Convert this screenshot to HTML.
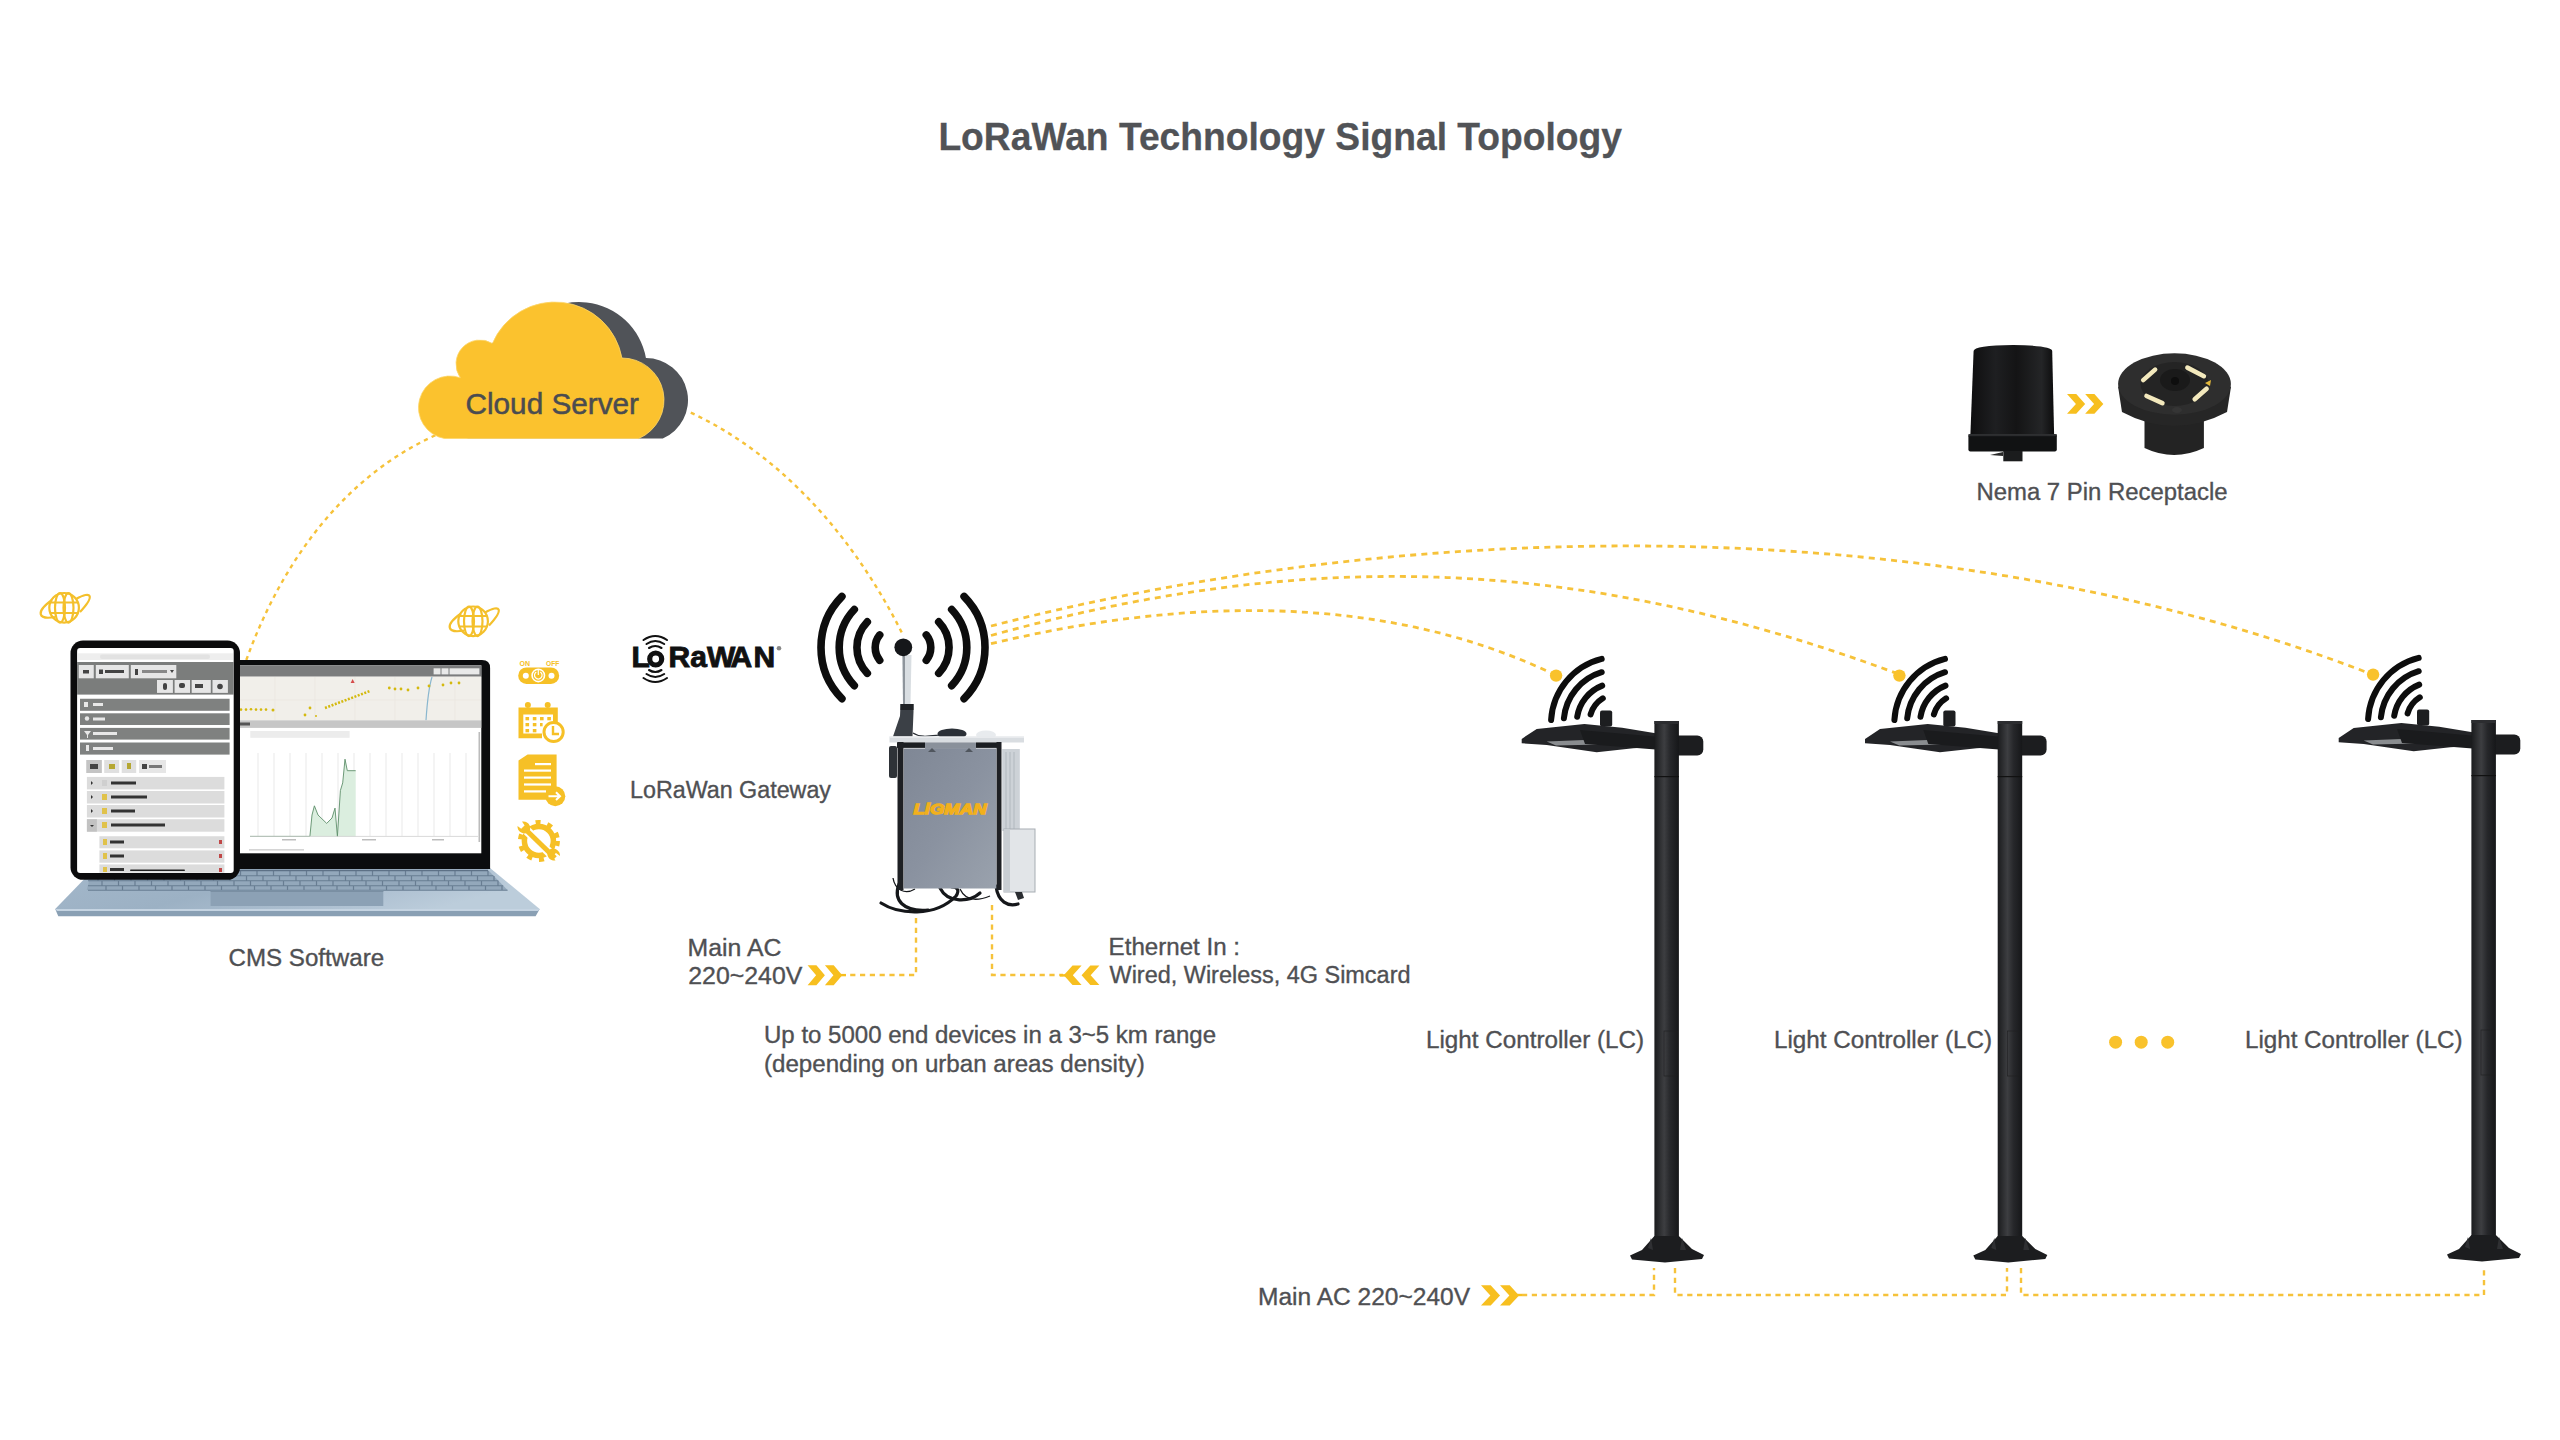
<!DOCTYPE html>
<html><head><meta charset="utf-8">
<style>
html,body{margin:0;padding:0;background:#fff;width:2560px;height:1440px;overflow:hidden}
svg{display:block}
.t{font-family:"Liberation Sans",sans-serif;fill:#4f5053;stroke:#4f5053;stroke-width:0.35px;font-size:23.5px}
.dot{fill:none;stroke:#f6c23a;stroke-width:2.4;stroke-dasharray:5.2 4.6}
</style></head><body>
<svg width="2560" height="1440" viewBox="0 0 2560 1440">
<!-- TITLE -->
<text class="t" x="938.4" y="150" style="font-size:39px;font-weight:bold;fill:#515357;stroke:#515357;stroke-width:0.3px" textLength="683.6" lengthAdjust="spacingAndGlyphs">LoRaWan Technology Signal Topology</text>

<!-- DOTTED CURVES -->
<path class="dot" style="stroke-dasharray:4.2 4.3;stroke-width:2.4" d="M246.3,660.0 C280.7,565.0 341.6,477.5 436.0,435.0"/>
<path class="dot" style="stroke-dasharray:4.2 4.3;stroke-width:2.4" d="M690.8,412.6 C785.1,456.8 856.0,541.3 902.0,633.0"/>
<path class="dot" style="stroke-dasharray:6 5.2;stroke-width:2.8" d="M991.0,626.0 C1426.1,513.8 1952.2,510.4 2372.0,674.4"/>
<path class="dot" style="stroke-dasharray:6 5.2;stroke-width:2.8" d="M991.0,635.5 C1312.2,546.3 1585.0,557.3 1899.6,674.4"/>
<path class="dot" style="stroke-dasharray:6 5.2;stroke-width:2.8" d="M991.0,643.7 C1176.0,599.4 1380.0,590.1 1555.9,675.3"/>
<path class="dot" d="M916,918 V975 H848"/>
<path class="dot" d="M992,905 V975 H1063"/>
<path class="dot" d="M1522,1295 H1654 V1268"/>
<path class="dot" d="M1675,1268 V1295 H2007 V1268"/>
<path class="dot" d="M2021,1268 V1295 H2484 V1268"/>

<!-- CLOUD -->
<g id="cloud">
<path transform="translate(24,0)" fill="#505358" d="M444.41,438.5 A31.5,31.5 0 1 1 460.32,377.74 A24,24 0 0 1 492.40,343.45 A68,68 0 0 1 621.93,358.00 A42,42 0 0 1 638.79,438.5 Z"/>
<path fill="#fbc22e" stroke="#fdd66a" stroke-width="0.8" d="M444.41,438.5 A31.5,31.5 0 1 1 460.32,377.74 A24,24 0 0 1 492.40,343.45 A68,68 0 0 1 621.93,358.00 A42,42 0 0 1 638.79,438.5 Z"/>
<text class="t" x="465.5" y="414" style="font-size:29.5px;fill:#4a4c50;stroke:#4a4c50;stroke-width:0.5px" textLength="173.5" lengthAdjust="spacingAndGlyphs">Cloud Server</text>
</g>

<!-- LABELS -->
<text class="t" x="228.5" y="966" textLength="155.6" lengthAdjust="spacingAndGlyphs">CMS Software</text>
<text class="t" x="630.0" y="798.4" textLength="201.0" lengthAdjust="spacingAndGlyphs">LoRaWan Gateway</text>
<text class="t" x="687.6" y="955.7" textLength="93.8" lengthAdjust="spacingAndGlyphs">Main AC</text>
<text class="t" x="688.3" y="984.1" textLength="114.0" lengthAdjust="spacingAndGlyphs">220~240V</text>
<text class="t" x="1108.6" y="955.2" textLength="131.4" lengthAdjust="spacingAndGlyphs">Ethernet In :</text>
<text class="t" x="1109.5" y="983.4" textLength="301.0" lengthAdjust="spacingAndGlyphs">Wired, Wireless, 4G Simcard</text>
<text class="t" x="764.0" y="1043.1" textLength="452.0" lengthAdjust="spacingAndGlyphs">Up to 5000 end devices in a 3~5 km range</text>
<text class="t" x="764.0" y="1072.2" textLength="380.7" lengthAdjust="spacingAndGlyphs">(depending on urban areas density)</text>
<text class="t" x="1426.0" y="1047.5" textLength="218.1" lengthAdjust="spacingAndGlyphs">Light Controller (LC)</text>
<text class="t" x="1774.0" y="1047.5" textLength="218.1" lengthAdjust="spacingAndGlyphs">Light Controller (LC)</text>
<text class="t" x="2245.0" y="1047.5" textLength="217.6" lengthAdjust="spacingAndGlyphs">Light Controller (LC)</text>
<text class="t" x="1976.5" y="500.2" textLength="251.0" lengthAdjust="spacingAndGlyphs">Nema 7 Pin Receptacle</text>
<text class="t" x="1258.0" y="1304.5" textLength="212.1" lengthAdjust="spacingAndGlyphs">Main AC 220~240V</text>
<g fill="#f9c22c"><circle cx="2115.6" cy="1042.2" r="6.5"/><circle cx="2141.2" cy="1042.2" r="6.5"/><circle cx="2167.7" cy="1042.2" r="6.5"/></g>

<!--COMPONENTS-->
<!--LAPTOP-->
<g id="laptop">
<defs>
<linearGradient id="deck" x1="0" y1="0" x2="1" y2="0.3"><stop offset="0" stop-color="#a3b7ca"/><stop offset="0.45" stop-color="#9cb1c4"/><stop offset="0.8" stop-color="#b0c2d3"/><stop offset="1" stop-color="#bccddb"/></linearGradient>
</defs>
<!-- base deck -->
<path d="M95,868 L490,868 L539.7,909 L55.2,909 Z" fill="url(#deck)"/>
<path d="M55.2,909 L539.7,909 L535.6,916.2 L58.3,916.2 Z" fill="#8aa0b4"/>
<path d="M55.2,909 L539.7,909 L538,911 L57,911 Z" fill="#c5d4e2"/>
<!-- keyboard -->
<path d="M92,870 L488,870 L507.5,890 L86.7,890 Z" fill="#93a8bb"/>
<path d="M88,875.75 H493.4 M92.0,871 V875.5 M108.5,871 V875.5 M125.0,871 V875.5 M141.5,871 V875.5 M158.0,871 V875.5 M174.5,871 V875.5 M191.0,871 V875.5 M207.5,871 V875.5 M224.0,871 V875.5 M240.5,871 V875.5 M257.0,871 V875.5 M273.5,871 V875.5 M290.0,871 V875.5 M306.5,871 V875.5 M323.0,871 V875.5 M339.5,871 V875.5 M356.0,871 V875.5 M372.5,871 V875.5 M389.0,871 V875.5 M405.5,871 V875.5 M422.0,871 V875.5 M438.5,871 V875.5 M455.0,871 V875.5 M471.5,871 V875.5 M488.0,871 V875.5 M88,880.75 H498.3 M98.0,876 V880.5 M114.5,876 V880.5 M131.0,876 V880.5 M147.5,876 V880.5 M164.0,876 V880.5 M180.5,876 V880.5 M197.0,876 V880.5 M213.5,876 V880.5 M230.0,876 V880.5 M246.5,876 V880.5 M263.0,876 V880.5 M279.5,876 V880.5 M296.0,876 V880.5 M312.5,876 V880.5 M329.0,876 V880.5 M345.5,876 V880.5 M362.0,876 V880.5 M378.5,876 V880.5 M395.0,876 V880.5 M411.5,876 V880.5 M428.0,876 V880.5 M444.5,876 V880.5 M461.0,876 V880.5 M477.5,876 V880.5 M494.0,876 V880.5 M88,885.75 H503.2 M102.0,881 V885.5 M118.5,881 V885.5 M135.0,881 V885.5 M151.5,881 V885.5 M168.0,881 V885.5 M184.5,881 V885.5 M201.0,881 V885.5 M217.5,881 V885.5 M234.0,881 V885.5 M250.5,881 V885.5 M267.0,881 V885.5 M283.5,881 V885.5 M300.0,881 V885.5 M316.5,881 V885.5 M333.0,881 V885.5 M349.5,881 V885.5 M366.0,881 V885.5 M382.5,881 V885.5 M399.0,881 V885.5 M415.5,881 V885.5 M432.0,881 V885.5 M448.5,881 V885.5 M465.0,881 V885.5 M481.5,881 V885.5 M498.0,881 V885.5 M88,890.25 H507.6 M106.0,886 V890 M122.5,886 V890 M139.0,886 V890 M155.5,886 V890 M172.0,886 V890 M188.5,886 V890 M205.0,886 V890 M221.5,886 V890 M238.0,886 V890 M254.5,886 V890 M271.0,886 V890 M287.5,886 V890 M304.0,886 V890 M320.5,886 V890 M337.0,886 V890 M353.5,886 V890 M370.0,886 V890 M386.5,886 V890 M403.0,886 V890 M419.5,886 V890 M436.0,886 V890 M452.5,886 V890 M469.0,886 V890 M485.5,886 V890 M502.0,886 V890" stroke="#687d92" stroke-width="1.2" fill="none"/>
<path d="M92,870.5 H488" stroke="#5d7186" stroke-width="1.4"/>
<path d="M210.6,890.8 L383.3,890.8 L383.3,906 L210.6,906 Z" fill="#8ca1b5"/>
<path d="M210.6,890.8 L383.3,890.8 L383.3,892 L210.6,892 Z" fill="#7a8fa3"/>
<!-- laptop screen bezel -->
<path d="M232,869 L232,668 Q232,660 240,660 L482,660 Q490.1,660 490.1,668 L490.1,869 Z" fill="#0b0c0e"/>
<rect x="236" y="665.3" width="245.3" height="188" fill="#ffffff"/>
<rect x="236" y="665.3" width="245.3" height="11.4" fill="#7b7c7d"/>
<rect x="433.6" y="668.3" width="45.8" height="6.1" fill="#e9e9e9"/>
<g stroke="#7b7c7d" stroke-width="1"><path d="M441,668 V675 M449,668 V675"/></g>
<rect x="236" y="676.7" width="245.3" height="43.6" fill="#f1efea"/>
<g stroke="#e9e6e0" stroke-width="0.7"><path d="M275,677 V720 M315,677 V720 M355,677 V720 M395,677 V720 M455,677 V720 M236,700 H481"/></g>
<path d="M432,677 C428,690 427,705 426,720.3" stroke="#8ab7cf" stroke-width="1.2" fill="none"/>
<path d="M352.6,679 l-2,4 h4z" fill="#d64b4b"/>
<g fill="#d4b90e">
<circle cx="241" cy="709.6" r="1.3"/><circle cx="246" cy="709.6" r="1.3"/><circle cx="251" cy="709.2" r="1.3"/><circle cx="256" cy="709.6" r="1.3"/><circle cx="261" cy="709.6" r="1.3"/><circle cx="266" cy="709.6" r="1.3"/><circle cx="273" cy="710" r="1.5"/>
<circle cx="305" cy="715" r="1.4"/><circle cx="310" cy="708" r="1.4"/><circle cx="316" cy="716" r="1"/>
<circle cx="389.3" cy="688" r="1.4"/><circle cx="395" cy="689" r="1.4"/><circle cx="401" cy="689" r="1.4"/><circle cx="408" cy="690" r="1.4"/><circle cx="418" cy="688" r="1.4"/><circle cx="429" cy="686" r="1.4"/><circle cx="443" cy="685" r="1.4"/><circle cx="451" cy="683" r="1.4"/><circle cx="459" cy="683" r="1.4"/>
</g>
<path d="M325,708 L369.4,691.2" stroke="#d4b90e" stroke-width="2.6" stroke-dasharray="2 1.5"/>
<rect x="236" y="720.3" width="245.3" height="7.6" fill="#c6c6c6"/>
<rect x="238" y="722.5" width="12" height="3" fill="#555"/>
<rect x="250.3" y="731" width="99.3" height="6.8" fill="#ececec"/>
<g stroke="#f4f4f4" stroke-width="2"><path d="M258,753 V836 M274,753 V836 M290,753 V836 M306,753 V836 M322,753 V836 M338,753 V836 M354,753 V836 M370,753 V836 M386,753 V836 M402,753 V836 M418,753 V836 M434,753 V836 M450,753 V836 M466,753 V836"/></g>
<path d="M309.9,836.4 L312,815 L314.4,805.8 L318,815 L326.7,823.4 L332,818 L335,808.1 L337.4,836.4 L340.4,790.5 L342.7,782.9 L345,759.2 L347.3,770.7 L355.7,770.7 L355.7,836.4 Z" fill="#dbeedf"/>
<path d="M250,836.4 L309.9,836.4 L312,815 L314.4,805.8 L318,815 L326.7,823.4 L332,818 L335,808.1 L337.4,836.4 L340.4,790.5 L342.7,782.9 L345,759.2 L347.3,770.7 L355.7,770.7" fill="none" stroke="#5e8e6a" stroke-width="0.9"/>
<path d="M250,836.4 H478" stroke="#cfcfcf" stroke-width="0.8"/>
<g fill="#bdbdbd"><rect x="282" y="839" width="14" height="1.5"/><rect x="362" y="839" width="14" height="1.5"/><rect x="432" y="839" width="12" height="1.5"/></g>
<rect x="249" y="849" width="55" height="1.6" fill="#d5d5d5"/>
<rect x="478.5" y="732" width="1.6" height="110" fill="#bbb"/>
<!-- tablet -->
<rect x="70.5" y="640.5" width="169.5" height="239.3" rx="12.5" fill="#0b0b0c"/>
<rect x="77.1" y="647.9" width="156.6" height="225" rx="3" fill="#ffffff"/>
<rect x="78" y="653.3" width="155" height="6.7" fill="#eeeeee"/>
<rect x="100" y="654.5" width="110" height="4.5" rx="2" fill="#e2e2e2"/>
<rect x="77.1" y="662" width="156.6" height="32.6" fill="#7b7d7c"/>
<g fill="#e6e6e6">
<rect x="78.75" y="665" width="15" height="13.3"/><rect x="95.8" y="665" width="33" height="13.3"/><rect x="130.8" y="665" width="45.5" height="13.3"/>
<rect x="157" y="680" width="15.9" height="12.9"/><rect x="174.6" y="680" width="15.4" height="12.9"/><rect x="191.7" y="680" width="19.1" height="12.9"/><rect x="212.5" y="680" width="15.4" height="12.9"/>
</g>
<g fill="#444"><rect x="83" y="670" width="6" height="3.5"/><rect x="99" y="669.5" width="4" height="4.5"/><rect x="105" y="670" width="19" height="3"/><rect x="135" y="669" width="3" height="6"/><rect x="142" y="670" width="25" height="3" fill="#888"/><path d="M170,670 h4 l-2,3z"/><rect x="163" y="683" width="4" height="7" rx="2"/><rect x="179" y="683" width="6" height="5" rx="2"/><rect x="195" y="684" width="8" height="4"/><circle cx="220" cy="686.5" r="2.8"/></g>
<g fill="#7f8180">
<rect x="80" y="698.75" width="149.6" height="12.05"/><rect x="80" y="713.3" width="149.6" height="11.7"/><rect x="80" y="727.9" width="149.6" height="11.7"/><rect x="80" y="742.5" width="149.6" height="12.1"/>
</g>
<g fill="#e8e8e8"><rect x="84" y="702" width="4" height="5"/><rect x="93" y="703" width="10" height="3"/><circle cx="87" cy="718.5" r="2.2"/><rect x="93" y="717.5" width="12" height="3"/><path d="M84,731 h7 l-3,4 v3 h-1 v-3z"/><rect x="93" y="732" width="24" height="3"/><rect x="86" y="745" width="3" height="6"/><rect x="93" y="747" width="20" height="3"/></g>
<g>
<rect x="86.25" y="760" width="15.6" height="13" fill="#c4c4c4"/><rect x="104.2" y="760" width="15" height="13" fill="#e0e0e0"/><rect x="121.7" y="760" width="14.5" height="13" fill="#e0e0e0"/><rect x="139" y="760" width="27" height="13" fill="#e6e6e6"/>
<rect x="90" y="764" width="8" height="5" fill="#444"/><rect x="109" y="764" width="6" height="5" fill="#b5a733"/><rect x="127" y="763" width="4" height="6" fill="#b5a733"/><rect x="142" y="764" width="5" height="5" fill="#444"/><rect x="149" y="765" width="13" height="3" fill="#777"/>
</g>
<g fill="#dcdcdc">
<rect x="86.9" y="776.9" width="137.5" height="12.5"/><rect x="86.9" y="791" width="137.5" height="12.5"/><rect x="86.9" y="805" width="137.5" height="12.5"/><rect x="86.9" y="819.2" width="137.5" height="12.5"/>
<rect x="99.4" y="836.25" width="125" height="12.05"/><rect x="99.4" y="850.4" width="125" height="12.3"/><rect x="99.4" y="864.4" width="125" height="8.3"/>
</g>
<rect x="86.9" y="819.2" width="10" height="12.5" fill="#c2c2c2"/>
<g fill="#333"><path d="M91,781 l2,2 l-2,2z M91,795 l2,2 l-2,2z M91,809 l2,2 l-2,2z M90,825 l4,0 l-2,2z"/>
<rect x="111" y="781.5" width="25" height="3"/><rect x="111" y="795.5" width="36" height="3"/><rect x="111" y="809.5" width="24" height="3"/><rect x="111" y="823.5" width="54" height="3"/>
<rect x="110" y="840.5" width="14" height="3"/><rect x="110" y="854.5" width="14" height="3"/><rect x="110" y="868" width="14" height="3"/>
</g>
<g fill="#e0c24a"><rect x="102" y="780" width="5" height="6" fill="#cfcfcf"/><rect x="102" y="794" width="5" height="6"/><rect x="102" y="808" width="5" height="6"/><rect x="102" y="822" width="5" height="6"/><rect x="103" y="839" width="4" height="6"/><rect x="103" y="853" width="4" height="6"/><rect x="103" y="867" width="4" height="5"/></g>
<g fill="#c04848"><rect x="219" y="840" width="3" height="4"/><rect x="219" y="854" width="3" height="4"/><rect x="219" y="868" width="3" height="4"/></g>
<rect x="130" y="869.5" width="55" height="1.6" rx="0.8" fill="#222"/>
</g>
<!--ICONS-->
<defs>
<path id="chev" d="M0,0 h8.8 l8.5,10 l-8.5,10 h-8.8 l8.5,-10 z M17.3,0 h8.8 l8.5,10 l-8.5,10 h-8.8 l8.5,-10 z"/>
<g id="globe" fill="none" stroke="#f4c02c" stroke-width="2.2">
<circle cx="64.1" cy="607.8" r="14.8"/>
<path d="M50,602.5 H78 M50,613 H78"/>
<ellipse cx="60" cy="607.8" rx="5" ry="14.8"/>
<ellipse cx="68.5" cy="607.8" rx="5" ry="14.8"/>
<path d="M52,600 C35,612 38,620 55,617 M76,599 C92,590 95,596 80,612" />
</g>
</defs>
<g fill="#f7bf1f">
<use href="#chev" transform="translate(807.6,965.2)"/>
<rect x="840" y="973.9" width="6" height="2.4"/>
<rect x="1060" y="974.2" width="6" height="2.4"/>
<rect x="1516" y="1293.8" width="6" height="2.4"/>
<use href="#chev" transform="translate(1099.4,965.6) scale(-1.03,0.97)"/>
<use href="#chev" transform="translate(2067,394) scale(1.05,0.99)"/>
<use href="#chev" transform="translate(1481,1285.2) scale(1.1,1.02)"/>
</g>
<use href="#globe"/>
<use href="#globe" transform="translate(409,13.5)"/>
<g fill="#f6c026">
<!-- on/off -->
<text x="519.5" y="665.8" font-family="Liberation Sans" font-weight="bold" font-size="8" textLength="10.5" lengthAdjust="spacingAndGlyphs">ON</text>
<text x="546" y="665.8" font-family="Liberation Sans" font-weight="bold" font-size="8" textLength="13.2" lengthAdjust="spacingAndGlyphs">OFF</text>
<rect x="518.2" y="667.4" width="41" height="16.6" rx="8.3"/>
<circle cx="525.8" cy="675.7" r="3" fill="#fff"/><circle cx="551.5" cy="675.7" r="3" fill="#fff"/>
<circle cx="538.3" cy="675.4" r="6.2" fill="none" stroke="#fff" stroke-width="1.6"/>
<path d="M536.3,672 A3.8,3.8 0 1 0 540.3,672 M538.3,670 V675" fill="none" stroke="#fff" stroke-width="1.2"/>
<!-- calendar -->
<path d="M518.5,707.6 H557.8 V722 H553 V714.6 H523.3 V733.5 H542 V738.2 H518.5 Z"/>
<circle cx="527.9" cy="705" r="3"/><circle cx="547.7" cy="705" r="3"/>
<g><rect x="525.5" y="717" width="3.6" height="3.3"/><rect x="532.8" y="717" width="3.6" height="3.3"/><rect x="540" y="717" width="3.6" height="3.3"/><rect x="547.3" y="717" width="3.6" height="3.3"/>
<rect x="525.5" y="723" width="3.6" height="3.3"/><rect x="532.8" y="723" width="3.6" height="3.3"/><rect x="540" y="723" width="2.6" height="3.3"/>
<rect x="525.5" y="729" width="3.6" height="3.3"/><rect x="532.8" y="729" width="3.6" height="3.3"/></g>
<circle cx="553.6" cy="732" r="9.6" fill="#fff" stroke="#f6c026" stroke-width="3"/>
<path d="M553,726 V734 H559" fill="none" stroke="#f6c026" stroke-width="2.4"/>
<!-- document -->
<path d="M527.6,754.5 H556.6 V790 H549 V799.7 H518.5 V760.6 Z"/>
<g fill="#fff"><rect x="535" y="763" width="16" height="2.2"/><rect x="524" y="769.5" width="27" height="2.2"/><rect x="524" y="776.5" width="27" height="2.2"/><rect x="524" y="783.4" width="27" height="2.2"/><rect x="524" y="790.3" width="22" height="2.2"/></g>
<circle cx="555.3" cy="796.2" r="10"/>
<path d="M548.5,796.2 H560 M556,792.3 L560,796.2 L556,800" fill="none" stroke="#fff" stroke-width="2"/>
<!-- gear + wrench -->
<circle cx="538.9" cy="841" r="14.5" fill="none" stroke="#f6c026" stroke-width="5.5"/>
<g stroke="#f6c026" stroke-width="5" stroke-dasharray="5 6.9" fill="none"><circle cx="538.9" cy="841" r="18.5"/></g>
<path d="M522,826 L556,859" stroke="#fff" stroke-width="9"/>
<path d="M523,827 L555,858" stroke="#f6c026" stroke-width="5"/>
<path d="M517.5,826 A7,7 0 0 0 527,833 L530,830 A7,7 0 0 0 522,821.5 L525,826 L521.5,829 Z"/>
<path d="M560,856 A7,7 0 0 0 550.5,849 L547.5,852 A7,7 0 0 0 555.5,860.5 L552.5,856 L556,853 Z"/>
</g>
<!-- LoRaWAN logo -->
<g>
<g font-family="Liberation Sans" font-weight="bold" font-size="30" fill="#111" stroke="#111" stroke-width="0.9" lengthAdjust="spacingAndGlyphs">
<text x="631.5" y="666.8" textLength="13">L</text>

<text x="668.5" y="666.8" textLength="17.5">R</text>
<text x="690.3" y="666.8" textLength="13.3">a</text>
<text x="707" y="666.8" textLength="31">W</text>
<text x="730.5" y="666.8" textLength="18.5">A</text>
<text x="753.5" y="666.8" textLength="19.5">N</text>
</g>
<g fill="none" stroke="#111" stroke-width="2.1" stroke-linecap="round">
<path d="M643.5,640 Q655.3,632 667,640"/><path d="M646.5,644 Q655.3,638 664.2,644"/><path d="M649,648 Q655.3,644 661.5,648"/>
<path d="M649,670 Q655.3,674 661.5,670"/><path d="M646.5,674 Q655.3,680 664.2,674"/><path d="M643.5,678 Q655.3,686 667,678"/>
</g>
<circle cx="779" cy="648.2" r="2.3" fill="#888"/>
<circle cx="655.7" cy="659" r="6" fill="none" stroke="#111" stroke-width="5.2"/>
</g>
<!-- NEMA -->
<g id="nema">
<defs><linearGradient id="nm" x1="0" y1="0" x2="1" y2="0"><stop offset="0" stop-color="#0e0e0f"/><stop offset="0.3" stop-color="#1e1f21"/><stop offset="0.55" stop-color="#141415"/><stop offset="0.85" stop-color="#242527"/><stop offset="1" stop-color="#0c0c0d"/></linearGradient></defs>
<path d="M1973.6,351 Q1974,345.5 2013,345 Q2052,345.5 2052.2,351 L2054.1,434.2 L1970.4,434.2 Z" fill="url(#nm)"/>
<rect x="1968.4" y="434.2" width="88.4" height="17.2" rx="2" fill="#111213"/>
<rect x="1968.4" y="434.2" width="88.4" height="2" fill="#2b2c2e"/>
<rect x="2003.3" y="451" width="19.2" height="10.3" fill="#1b1c1d"/>
<path d="M1990,455 l13,-3 v4z" fill="#2a2a2a"/>
<!-- receptacle -->
<path d="M2144.5,420 L2203.9,420 L2203.9,448 Q2174,462 2144.5,448 Z" fill="#232323"/>
<path d="M2118.1,386.7 L2122,412 Q2174,440 2227,412 L2231,386.7 Z" fill="#262626"/>
<ellipse cx="2174.5" cy="384" rx="56.4" ry="30.7" fill="#2e2e2e"/>
<ellipse cx="2174.5" cy="384" rx="34" ry="22" fill="#242424"/>
<ellipse cx="2175" cy="380" rx="15" ry="11" fill="#1a1a1a"/>
<circle cx="2175" cy="381" r="4" fill="#0e0e0e"/>
<g stroke="#f3e9bd" stroke-width="4.6" stroke-linecap="round" fill="none">
<path d="M2143.2,380.1 L2155.1,369.6"/>
<path d="M2187.4,367.6 L2203.9,376.2"/>
<path d="M2146.5,396 L2162.4,403.2"/>
<path d="M2194.7,399.3 L2206.6,388.7"/>
</g>
<path d="M2205,383 l6,-3 l-1,6z" fill="#e2b83a"/>
<ellipse cx="2177" cy="410" rx="5" ry="3" fill="#353535"/>
</g>
<!--LAMPS-->
<defs>
<linearGradient id="pg" x1="0" y1="0" x2="1" y2="0"><stop offset="0" stop-color="#1a1b1d"/><stop offset="0.4" stop-color="#3d3e41"/><stop offset="0.65" stop-color="#26272a"/><stop offset="1" stop-color="#161719"/></linearGradient>
<g id="lamp">
<circle cx="1556.1" cy="675.6" r="6.2" fill="#f9c22c"/>
<g fill="none" stroke="#0d0d0d" stroke-width="6" stroke-linecap="round">
<path d="M1551.1,720 A67,67 0 0 1 1601.7,658.9"/>
<path d="M1563.9,718.3 A53.5,53.5 0 0 1 1601.7,672.2"/>
<path d="M1577.2,716.7 A40.5,40.5 0 0 1 1602.2,685.6"/>
<path d="M1590.6,714.4 A28.3,28.3 0 0 1 1602.8,698.3"/>
</g>
<rect x="1600" y="710.6" width="12.2" height="16" rx="2" fill="#1d1e20"/>
<path d="M1521.7,738.9 L1536.7,728.9 L1584.4,723.9 L1622.2,727.8 L1655.6,733.3 L1657.8,746.7 L1633.3,748.3 L1596.7,752.2 L1546.7,745 L1521.7,743.3 Z" fill="#232427"/>
<path d="M1546.7,741.6 L1596.7,739.5 L1601,744.5 L1556,745.5 Z" fill="#8a8d90"/>
<path d="M1580,730 L1660,737 L1662,750 L1585,744 Z" fill="#1a1b1d"/>
<rect x="1670" y="735.6" width="33.3" height="20" rx="6" fill="#1c1d1f"/>
<rect x="1654.4" y="721" width="24.5" height="534" fill="url(#pg)"/>
<rect x="1654.4" y="721" width="24.5" height="3" fill="#2c2d30"/>
<rect x="1654.4" y="776" width="24.5" height="1.2" fill="#111"/>
<rect x="1664" y="1031" width="13" height="45" fill="none" stroke="#1e1f21" stroke-width="0.6"/>
<path d="M1630,1255.5 L1642,1250 L1654.4,1236 L1678.9,1236 L1692,1249 L1704,1255 L1702,1259 L1665,1262.5 L1632,1259.5 Z" fill="#1c1d1f"/>
<path d="M1648,1248 L1651,1238 L1653,1250 Z M1682,1238 L1686,1250 L1680,1250 Z" fill="#2f3033"/>
</g>
</defs>
<use href="#lamp"/>
<use href="#lamp" transform="translate(343.3,0)"/>
<use href="#lamp" transform="translate(817,-1)"/>
<!--GATEWAY-->
<g id="gateway">
<g fill="none" stroke="#0d0d0d" stroke-width="7.6" stroke-linecap="round">
<path d="M841.9,596.5 A72.9,72.9 0 0 0 841.9,698.7"/>
<path d="M964.1,596.5 A72.9,72.9 0 0 1 964.1,698.7"/>
<path d="M854.3,609.5 A55.6,55.6 0 0 0 854.3,685.7"/>
<path d="M951.7,609.5 A55.6,55.6 0 0 1 951.7,685.7"/>
<path d="M867.3,621.9 A37.0,37.0 0 0 0 867.3,673.3"/>
<path d="M938.7,621.9 A37.0,37.0 0 0 1 938.7,673.3"/>
<path d="M879.7,634.9 A20.2,20.2 0 0 0 879.7,660.3"/>
<path d="M926.3,634.9 A20.2,20.2 0 0 1 926.3,660.3"/>
</g>
<!-- antenna -->
<path d="M902.5,655 L911.5,655 L910.5,704 L903,704 Z" fill="#d9dee2"/>
<path d="M902.5,655 L905,655 L905,704 L903,704 Z" fill="#8e959c"/>
<path d="M900.5,704 L913.5,704 L913.5,712 L912.5,736.5 L893,736.5 L900,716 Z" fill="#3b4046"/>
<path d="M900.5,704 L913.5,704 L913.5,710 L900.5,710 Z" fill="#1f2226"/>
<circle cx="903.3" cy="647.3" r="8.9" fill="#15171a"/>
<!-- top items -->
<ellipse cx="952" cy="734" rx="14.5" ry="5.5" fill="#2b3037"/>
<path d="M913,733 C920,738 930,736 940,735" stroke="#2b3037" stroke-width="1.2" fill="none"/>
<ellipse cx="986" cy="735" rx="10" ry="4.5" fill="#e8ebee"/>
<!-- cables -->
<g fill="none" stroke="#15171a" stroke-width="3.2" stroke-linecap="round">
<path d="M881,903 C898,914 935,918 956,896 C960,890 957,887 952,887"/>
<path d="M899,884 C893,900 903,912 928,910"/>
<path d="M940,888 C948,904 970,902 980,893"/>
<path d="M996,886 C998,902 1008,907 1018,904"/>
</g>
<g fill="none" stroke="#15171a" stroke-width="1.3"><path d="M915,889 C905,895 895,890 893,878"/><path d="M960,889 C965,900 975,902 990,896"/></g>
<!-- frame -->
<rect x="889.5" y="736.5" width="134.5" height="6" fill="#d9dde1"/><rect x="889.5" y="736.5" width="134.5" height="1.2" fill="#eef0f2"/>
<rect x="897" y="742.4" width="28" height="5.5" fill="#1b1e22"/><rect x="976" y="742.4" width="25" height="5.5" fill="#1b1e22"/><rect x="925" y="742.4" width="51" height="6.5" fill="#8a919b"/>
<rect x="897.5" y="742" width="6" height="148" fill="#1e2024"/>
<rect x="996.5" y="742" width="5" height="148" fill="#1e2024"/>
<rect x="889" y="746" width="8" height="32" fill="#2e3237" rx="2"/>
<!-- main panel -->
<defs><linearGradient id="gwp" x1="0" y1="0" x2="1" y2="1"><stop offset="0" stop-color="#7f8795"/><stop offset="0.5" stop-color="#8a92a0"/><stop offset="1" stop-color="#9aa2ad"/></linearGradient></defs>
<rect x="903.8" y="748.5" width="92.5" height="140" fill="url(#gwp)"/>
<path d="M928,752 l4,-4 l4,4 z M965,752 l4,-4 l4,4 z" fill="#50565e"/>
<text x="913.5" y="813.8" font-family="Liberation Sans" font-weight="bold" font-style="italic" font-size="14.5" fill="#f2b01c" stroke="#f2b01c" stroke-width="1.3" textLength="73" lengthAdjust="spacingAndGlyphs">LiGMAN</text>
<!-- right radiator -->
<rect x="1002.2" y="749" width="17.6" height="82" fill="#cdd2d7"/>
<g stroke="#aab1b8" stroke-width="0.8"><path d="M1006,752 V829 M1010,752 V829 M1014,752 V829"/></g>
<rect x="1004" y="829" width="31" height="63" fill="#e2e5e8" stroke="#a7adb3" stroke-width="1"/>
<rect x="1004" y="829" width="6" height="63" fill="#c9ced3"/>
<path d="M1015,892 l3,8 l6,-2 l-2,-6z" fill="#2a2d31"/>
</g>

</svg>
</body></html>
